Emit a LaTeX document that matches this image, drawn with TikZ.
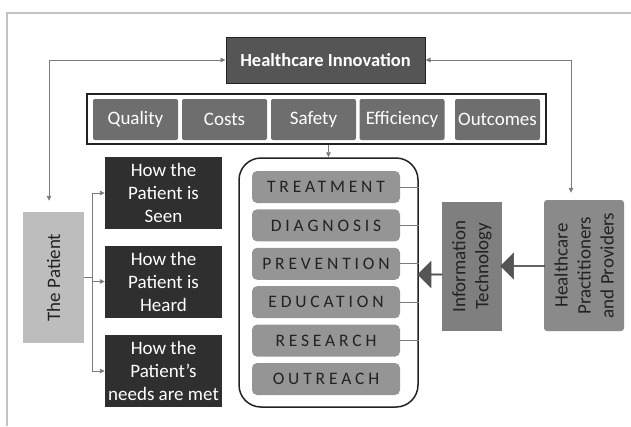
\documentclass[tikz,border=0pt]{standalone}
\usepackage{fontspec}
\setmainfont{Carlito}
\newfontfamily\spacedfont[LetterSpace=22]{Carlito}
\usetikzlibrary{shapes.arrows, arrows.meta, positioning, calc}

\definecolor{framegray}{HTML}{C4C4C4}
\definecolor{linegray}{HTML}{7A7A7A}
\definecolor{hibox}{HTML}{555555}
\definecolor{catgray}{HTML}{6E6E6E}
\definecolor{itemgray}{HTML}{959595}
\definecolor{itgray}{HTML}{7F7F7F}
\definecolor{hpgray}{HTML}{8A8A8A}
\definecolor{patgray}{HTML}{BDBDBD}
\definecolor{darkbox}{HTML}{2F2F2F}
\definecolor{inkgray}{HTML}{222222}

\begin{document}
\begin{tikzpicture}[
    x=1pt, y=-1pt,
    headbox/.style={rectangle, draw=inkgray, line width=1pt, fill=hibox, text=white, minimum width=199pt, minimum height=46pt, font=\bfseries\fontsize{18.5}{22}\selectfont},
    catbox/.style={rectangle, rounded corners=2pt, fill=catgray, text=white, minimum width=85pt, minimum height=41pt, inner sep=0pt, font=\fontsize{19}{22}\selectfont},
    itembox/.style={rectangle, rounded corners=5pt, fill=itemgray, text=inkgray, minimum width=148pt, minimum height=32pt, inner sep=0pt, font=\spacedfont\fontsize{17.5}{20}\selectfont},
    howbox/.style={rectangle, fill=darkbox, text=white, minimum width=117pt, minimum height=72pt, inner sep=0pt, align=center, font=\fontsize{19}{23}\selectfont},
    sidebox/.style={rectangle, rotate=90, text=inkgray, inner sep=0pt, align=center, font=\fontsize{19}{23}\selectfont},
    conn/.style={draw=linegray, line width=0.9pt, >={Triangle[length=5pt,width=4.5pt]}},
    blockarrow/.style={single arrow, shape border rotate=180, fill=hibox, draw=inkgray!80, line width=0.6pt, minimum width=26pt, single arrow head extend=6pt, inner sep=0pt},
]

    % Frame
    \useasboundingbox (0,0) rectangle (631,426);
    \draw [framegray, line width=2pt] (7,426) -- (7,13) -- (631,13);

    % Top: innovation and its aims
    \node (hi) [headbox] at (325.5,60) {Healthcare Innovation};
    \node (aims) [rectangle, draw=inkgray, line width=1.8pt, minimum width=459pt, minimum height=50pt] at (316.5,119) {};
    \foreach \x/\n/\t in {135.5/quality/Quality, 224.5/costs/Costs, 313.5/safety/Safety, 402/efficiency/Efficiency, 497.5/outcomes/Outcomes}
        \node (\n) [catbox] at (\x,119.5) {\t};

    % Services
    \node (services) [rectangle, rounded corners=22pt, draw=inkgray, line width=1.5pt, minimum width=179pt, minimum height=249pt] at (328.5,282.5) {};
    \node (treatment) [itembox] at (326,187) {TREATMENT};
    \node (diagnosis) [itembox, below=6pt of treatment] {DIAGNOSIS};
    \node (prevention) [itembox, below=6pt of diagnosis] {PREVENTION};
    \node (education) [itembox, below=6pt of prevention] {EDUCATION};
    \node (research) [itembox, below=6pt of education] {RESEARCH};
    \node (outreach) [itembox, below=6pt of research] {OUTREACH};

    % Right side
    \node (it) [sidebox, fill=itgray, minimum width=129pt, minimum height=60pt] at (472,266.5) {Information\\Technology};
    \node (hp) [sidebox, fill=hpgray, rounded corners=3pt, minimum width=131pt, minimum height=80pt] at (584,265.5) {Healthcare\\Practitioners\\and Providers};

    % Left side
    \node (patient) [sidebox, fill=patgray, minimum width=131pt, minimum height=61pt] at (53.5,277.5) {The Patient};
    \node (seen) [howbox] at (163.5,193) {How the\\Patient is\\Seen};
    \node (heard) [howbox] at (163.5,281.5) {How the\\Patient is\\Heard};
    \node (met) [howbox] at (163.5,371) {How the\\Patient’s\\needs are met};

    % Connectors
    \draw [conn, <->, shorten <=11pt] ([xshift=-4.5pt]patient.east) |- (hi.west);
    \draw [conn, <->, shorten >=7pt] (hi.east) -| ([xshift=-13pt]hp.east);
    \draw [conn, ->] (aims.south -| services.north) -- (services.north);
    \coordinate (fork) at ([xshift=8pt]patient.south);
    \draw [conn] (patient.south) -- (fork);
    \foreach \b in {seen, heard, met}
        \draw [conn, ->] (fork) |- (\b.west);
    \foreach \i in {treatment, diagnosis, prevention, education, research}
        \draw [conn, line width=0.7pt] (\i.east) -- (\i.east -| services.east);

    % Block arrows
    \path (hp.north) -- (it.south) node [blockarrow, midway, minimum height=44pt] {};
    \path (it.north) -- (services.east) node [blockarrow, midway, minimum height=24pt] {};

\end{tikzpicture}
\end{document}
